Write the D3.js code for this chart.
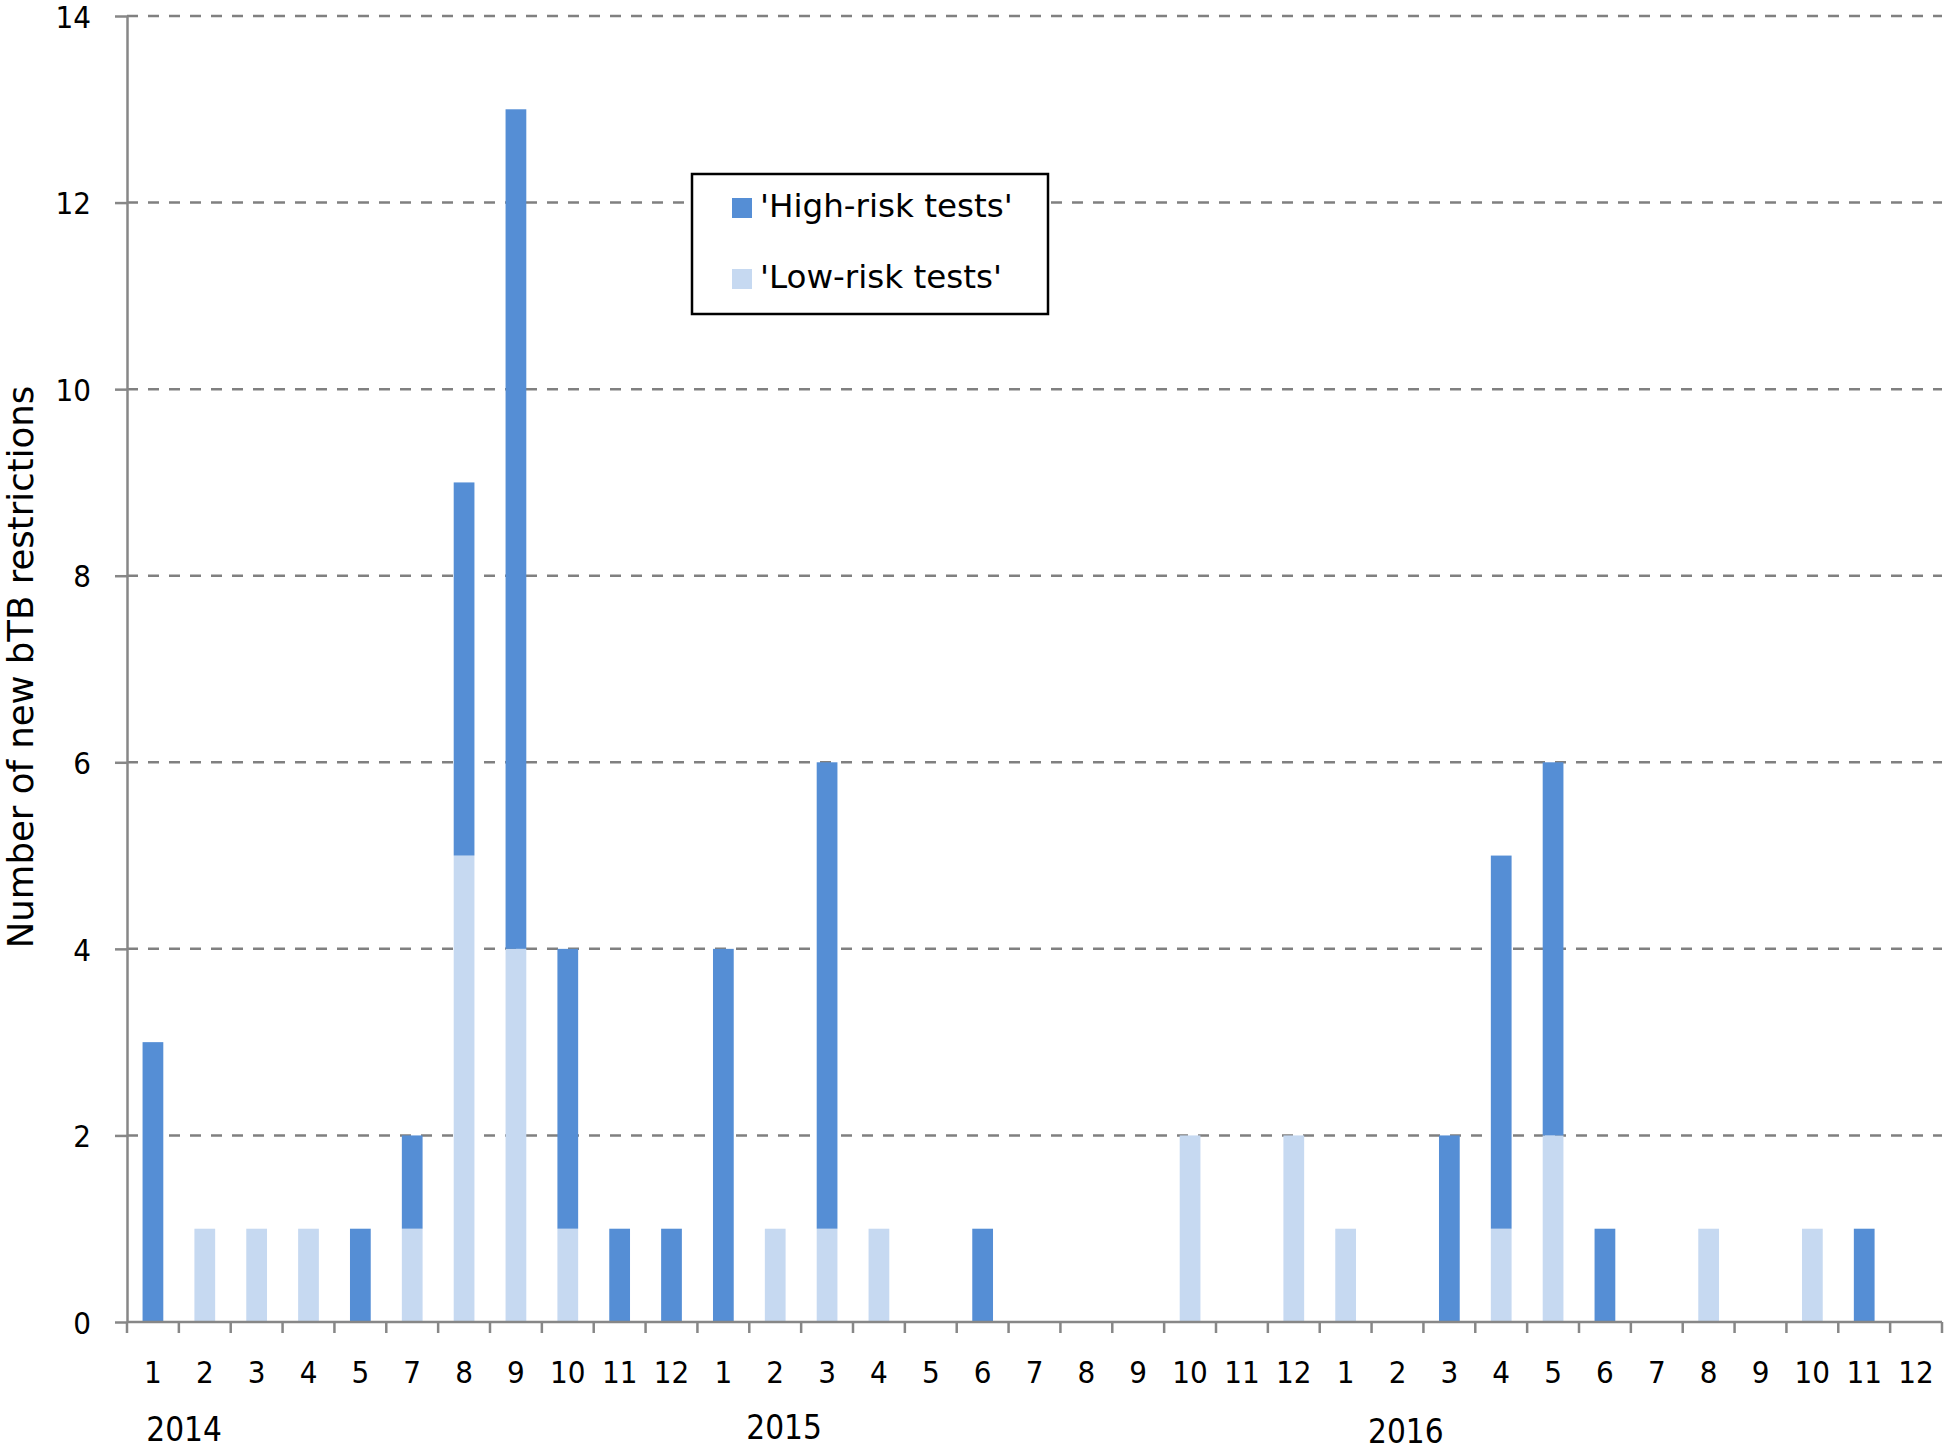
<!DOCTYPE html>
<html>
<head>
<meta charset="utf-8">
<script src="https://cdn.jsdelivr.net/npm/d3@7"></script>
<style>
  html, body { margin: 0; padding: 0; background: #fff; }
  svg { display: block; }
</style>
</head>
<body>
<script>
// ---- Data ----
const years = ["2014", "2015", "2016"];
const months2014 = ["1","2","3","4","5","7","8","9","10","11","12"];
const months2015 = ["1","2","3","4","5","6","7","8","9","10","11","12"];
const months2016 = ["1","2","3","4","5","6","7","8","9","10","11","12"];
const lowRisk2014  = [0,1,1,1,0,1,5,4,1,0,0];
const highRisk2014 = [3,0,0,0,1,1,4,9,3,1,1];
const lowRisk2015  = [0,1,1,1,0,0,0,0,0,2,0,2];
const highRisk2015 = [4,0,5,0,0,1,0,0,0,0,0,0];
const lowRisk2016  = [1,0,0,1,2,0,0,1,0,1,0,0];
const highRisk2016 = [0,0,2,4,4,1,0,0,0,0,1,0];
const yTicks = [0,2,4,6,8,10,12,14];
const seriesNames = ["'High-risk tests'", "'Low-risk tests'"];

(function () {
// ---- Build table ----
const groups = [
  {year: years[0], months: months2014, low: lowRisk2014, high: highRisk2014},
  {year: years[1], months: months2015, low: lowRisk2015, high: highRisk2015},
  {year: years[2], months: months2016, low: lowRisk2016, high: highRisk2016}
];
const rows = [];
groups.forEach(g => g.months.forEach((m, i) => rows.push({
  key: g.year + "-" + m, year: g.year, month: m, low: g.low[i], high: g.high[i]
})));

// ---- Layout ----
const W = 1946, H = 1450;
const mLeft = 127, mRight = 1942, mTop = 16, mBottom = 1322;
const colHigh = "#558ed5", colLow = "#c6d9f1";
const axisCol = "#878787";

const svg = d3.select("body").append("svg").attr("width", W).attr("height", H);

const x = d3.scaleBand().domain(rows.map(d => d.key)).range([mLeft, mRight])
  .paddingInner(0.6).paddingOuter(0.3);
const y = d3.scaleLinear().domain([0, 14]).range([mBottom, mTop]);

// gridlines
svg.append("g").selectAll("line").data(yTicks.filter(v => v > 0)).join("line")
  .attr("x1", mLeft).attr("x2", mRight)
  .attr("y1", d => y(d)).attr("y2", d => y(d))
  .attr("stroke", "#808080").attr("stroke-width", 2.5)
  .attr("stroke-dasharray", "11,10");

// stacked bars
const stacked = d3.stack().keys(["low", "high"])(rows);
const colors = {low: colLow, high: colHigh};
svg.append("g").selectAll("g").data(stacked).join("g")
  .attr("fill", s => colors[s.key])
  .selectAll("rect").data(s => s.filter(d => d[1] > d[0])).join("rect")
  .attr("x", d => x(d.data.key))
  .attr("width", x.bandwidth())
  .attr("y", d => y(d[1]))
  .attr("height", d => y(d[0]) - y(d[1]));

// y axis
const yAxis = d3.axisLeft(y).tickValues(yTicks).tickSize(12).tickPadding(24).tickSizeOuter(0);
const gy = svg.append("g").attr("transform", `translate(${mLeft},0)`).call(yAxis);
gy.select(".domain").attr("stroke", axisCol).attr("stroke-width", 2.5);
gy.selectAll(".tick line").attr("stroke", axisCol).attr("stroke-width", 2.5);
gy.selectAll(".tick text")
  .attr("font-family", "'DejaVu Sans Condensed', 'DejaVu Sans', sans-serif")
  .attr("font-size", 31).attr("fill", "#000").attr("dy", "0.36em");

// x axis
const monthOf = {};
rows.forEach(r => { monthOf[r.key] = r.month; });
const xAxis = d3.axisBottom(x).tickSize(0).tickPadding(0).tickFormat(k => monthOf[k]);
const gx = svg.append("g").attr("transform", `translate(0,${mBottom})`).call(xAxis);
gx.select(".domain").remove();
gx.selectAll(".tick text")
  .attr("font-family", "'DejaVu Sans Condensed', 'DejaVu Sans', sans-serif")
  .attr("font-size", 31).attr("fill", "#000")
  .attr("dy", 0).attr("y", 61);
svg.append("line").attr("x1", mLeft).attr("x2", mRight).attr("y1", mBottom).attr("y2", mBottom)
  .attr("stroke", axisCol).attr("stroke-width", 2.5);
// category boundary ticks
const step = x.step();
const boundaries = d3.range(rows.length + 1).map(i => mLeft + i * step);
svg.append("g").selectAll("line").data(boundaries).join("line")
  .attr("x1", d => d).attr("x2", d => d)
  .attr("y1", mBottom).attr("y2", mBottom + 11)
  .attr("stroke", axisCol).attr("stroke-width", 2.5);

// year labels
const yearOffsets = [1.1, 1.67, 1.66];
const yearBaselines = [1441, 1439, 1443];
let startIdx = 0;
groups.forEach((g, gi) => {
  svg.append("text")
    .attr("x", mLeft + (startIdx + yearOffsets[gi]) * step)
    .attr("y", yearBaselines[gi])
    .attr("text-anchor", "middle")
    .attr("font-family", "'DejaVu Sans Condensed', 'DejaVu Sans', sans-serif")
    .attr("font-size", 33).attr("fill", "#000")
    .text(g.year);
  startIdx += g.months.length;
});

// y title
svg.append("text")
  .attr("transform", "translate(33,667) rotate(-90)")
  .attr("text-anchor", "middle")
  .attr("font-family", "'DejaVu Sans', sans-serif")
  .attr("font-size", 35.5).attr("fill", "#000")
  .text("Number of new bTB restrictions");

// legend
const lg = svg.append("g");
lg.append("rect").attr("x", 692).attr("y", 174).attr("width", 356).attr("height", 140)
  .attr("fill", "#fff").attr("stroke", "#000").attr("stroke-width", 2.5);
const legendItems = [{name: seriesNames[0], color: colHigh}, {name: seriesNames[1], color: colLow}];
legendItems.forEach((it, i) => {
  const base = 217 + i * 71;
  lg.append("rect").attr("x", 732).attr("y", base - 19).attr("width", 20).attr("height", 20)
    .attr("fill", it.color);
  lg.append("text").attr("x", 760).attr("y", base)
    .attr("font-family", "'DejaVu Sans', sans-serif")
    .attr("font-size", 32.6).attr("fill", "#000").text(it.name);
});
})();
</script>
</body>
</html>
